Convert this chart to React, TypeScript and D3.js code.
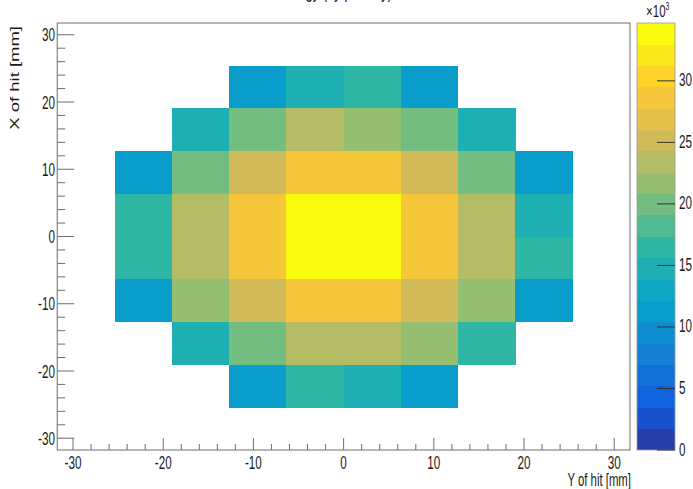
import React from "react";
import * as d3 from "d3";

// ---- data ----
const binLow = -31.75;
const binWidth = 6.35;
const nBins = 10;
// rows from top (highest X of hit) to bottom; columns from lowest Y of hit to highest
const row9 = [0, 0, 0, 0, 0, 0, 0, 0, 0, 0];
const row8 = [0, 0, 0, 11200, 14700, 16400, 11200, 0, 0, 0];
const row7 = [0, 0, 14700, 20000, 23500, 21700, 20000, 14700, 0, 0];
const row6 = [0, 11200, 20000, 25100, 28600, 28600, 25100, 20000, 11200, 0];
const row5 = [0, 16400, 23500, 28600, 34700, 34700, 28600, 23500, 14700, 0];
const row4 = [0, 16400, 23500, 28600, 34700, 34700, 28600, 23500, 16400, 0];
const row3 = [0, 11200, 21700, 25100, 28600, 28600, 25100, 21700, 11200, 0];
const row2 = [0, 0, 14700, 20000, 23500, 23500, 21700, 16400, 0, 0];
const row1 = [0, 0, 0, 11200, 16400, 14700, 11200, 0, 0, 0];
const row0 = [0, 0, 0, 0, 0, 0, 0, 0, 0, 0];
const rowsTopToBottom = [row9, row8, row7, row6, row5, row4, row3, row2, row1, row0];
const zMax = 34700;
const nContours = 20;
const axisTicks = [-30, -20, -10, 0, 10, 20, 30];
const zTicks = [0, 5, 10, 15, 20, 25, 30];
const titleText = "Energy (by primary)";
const xTitle = "Y of hit [mm]";
const yTitle = "X of hit [mm]";

// kBird palette
const birdStops = [0.0, 0.125, 0.25, 0.375, 0.5, 0.625, 0.75, 0.875, 1.0];
const birdR = [0.2082, 0.0592, 0.078, 0.0232, 0.1802, 0.5301, 0.8186, 0.9956, 0.9764];
const birdG = [0.1664, 0.3599, 0.5041, 0.6419, 0.7178, 0.7492, 0.7328, 0.7862, 0.9832];
const birdB = [0.5293, 0.8684, 0.8385, 0.7914, 0.6425, 0.4662, 0.3499, 0.1968, 0.0539];

const sR = d3.scaleLinear<number>().domain(birdStops).range(birdR);
const sG = d3.scaleLinear<number>().domain(birdStops).range(birdG);
const sB = d3.scaleLinear<number>().domain(birdStops).range(birdB);
const NCOL = 255;
const palette = d3.range(NCOL).map((j) => {
  const t = j / (NCOL - 1);
  return d3.rgb(sR(t) * 255, sG(t) * 255, sB(t) * 255).formatHex();
});
const levelColor = (lvl: number) => palette[Math.min(NCOL - 1, Math.floor((lvl + 0.99) * NCOL / nContours))];
const valueColor = (v: number) => {
  let lvl = Math.floor(0.01 + (v / zMax) * nContours);
  if (lvl >= nContours) lvl = nContours - 1;
  return levelColor(lvl);
};

const FONT = "'Liberation Sans', Arial, Helvetica, sans-serif";
const SX = 0.65;
const TXT = "#1a1a1a";
const LINE = "#6e6e6e";

export default function App() {
  const W = 693, H = 489;
  const fx0 = 57.25, fx1 = 630, fy0 = 23, fy1 = 450;
  const x = d3.scaleLinear().domain([binLow, binLow + nBins * binWidth]).range([fx0, fx1]);
  const y = d3.scaleLinear().domain([binLow, binLow + nBins * binWidth]).range([fy1, fy0]);
  const z = d3.scaleLinear().domain([0, zMax]).range([fy1, fy0]);
  const cb0 = 637, cb1 = 675;

  const cells: React.ReactNode[] = [];
  rowsTopToBottom.forEach((row, ri) => {
    const yi = nBins - 1 - ri;
    const ylo = binLow + yi * binWidth;
    row.forEach((v, xi) => {
      if (v <= 0) return;
      const xlo = binLow + xi * binWidth;
      cells.push(
        <rect key={`c${ri}-${xi}`} x={x(xlo)} y={y(ylo + binWidth)} width={x(xlo + binWidth) - x(xlo) + 0.3}
          height={y(ylo) - y(ylo + binWidth) + 0.3} fill={valueColor(v)} />
      );
    });
  });

  const minorTicks = d3.range(-30, 31, 2).filter((t) => t % 10 !== 0);

  const bands = d3.range(nContours).map((i) => {
    const lo = (i / nContours) * zMax, hi = ((i + 1) / nContours) * zMax;
    return <rect key={`b${i}`} x={cb0} y={z(hi)} width={cb1 - cb0} height={z(lo) - z(hi) + 0.3} fill={levelColor(i)} />;
  });

  const htext = (key: string, tx: number, ty: number, s: string, size: number, anchor: string, baseline = "auto") => (
    <g key={key} transform={`translate(${tx},${ty}) scale(${SX},1)`}>
      <text x={0} y={0} fontSize={size} textAnchor={anchor} dominantBaseline={baseline} fill={TXT} fontFamily={FONT}>{s}</text>
    </g>
  );

  return (
    <svg width={W} height={H} style={{ position: "absolute", left: 0, top: 0, background: "#fff" }}>
      <rect x={0} y={0} width={W} height={H} fill="#fff" />
      {htext("title", 335, -2, titleText, 20, "middle")}
      <g shapeRendering="crispEdges">{cells}</g>
      <rect x={fx0} y={fy0} width={fx1 - fx0} height={fy1 - fy0} fill="none" stroke={LINE} strokeWidth={1} />
      {/* x axis ticks */}
      {axisTicks.map((t) => (
        <line key={`xt${t}`} x1={x(t)} x2={x(t)} y1={fy1} y2={fy1 - 12} stroke={LINE} />
      ))}
      {minorTicks.map((t) => (
        <line key={`xm${t}`} x1={x(t)} x2={x(t)} y1={fy1} y2={fy1 - 6} stroke={LINE} />
      ))}
      {axisTicks.map((t) => htext(`xl${t}`, x(t), 469, String(t), 18, "middle"))}
      {/* y axis ticks */}
      {axisTicks.map((t) => (
        <line key={`yt${t}`} x1={fx0} x2={fx0 + 17} y1={y(t)} y2={y(t)} stroke={LINE} />
      ))}
      {minorTicks.map((t) => (
        <line key={`ym${t}`} x1={fx0} x2={fx0 + 8} y1={y(t)} y2={y(t)} stroke={LINE} />
      ))}
      {axisTicks.map((t) => htext(`yl${t}`, 55, y(t), String(t), 18, "end", "central"))}
      {htext("xtitle", 631, 486, xTitle, 17.5, "end")}
      <g transform={`translate(19,26) scale(${SX},1) rotate(-90)`}>
        <text x={0} y={0} fontSize={18.5} textAnchor="end" fill={TXT} fontFamily={FONT}>{yTitle}</text>
      </g>
      {/* colour bar */}
      <g shapeRendering="crispEdges">{bands}</g>
      <rect x={cb0} y={fy0} width={cb1 - cb0} height={fy1 - fy0} fill="none" stroke="#9a9a9a" strokeWidth={0.8} />
      {zTicks.map((t) => (
        <line key={`zt${t}`} x1={cb1} x2={cb1 - 18} y1={z(t * 1000)} y2={z(t * 1000)} stroke="#333" />
      ))}
      {zTicks.map((t) => htext(`zl${t}`, 679, z(t * 1000) - 1, String(t), 18, "start", "central"))}
      <g transform={`translate(646,17) scale(0.72,1)`}>
        <text x={0} y={0} fontSize={16} fill={TXT} fontFamily={FONT}>
          ×10<tspan fontSize={10} dy={-7}>3</tspan>
        </text>
      </g>
    </svg>
  );
}
